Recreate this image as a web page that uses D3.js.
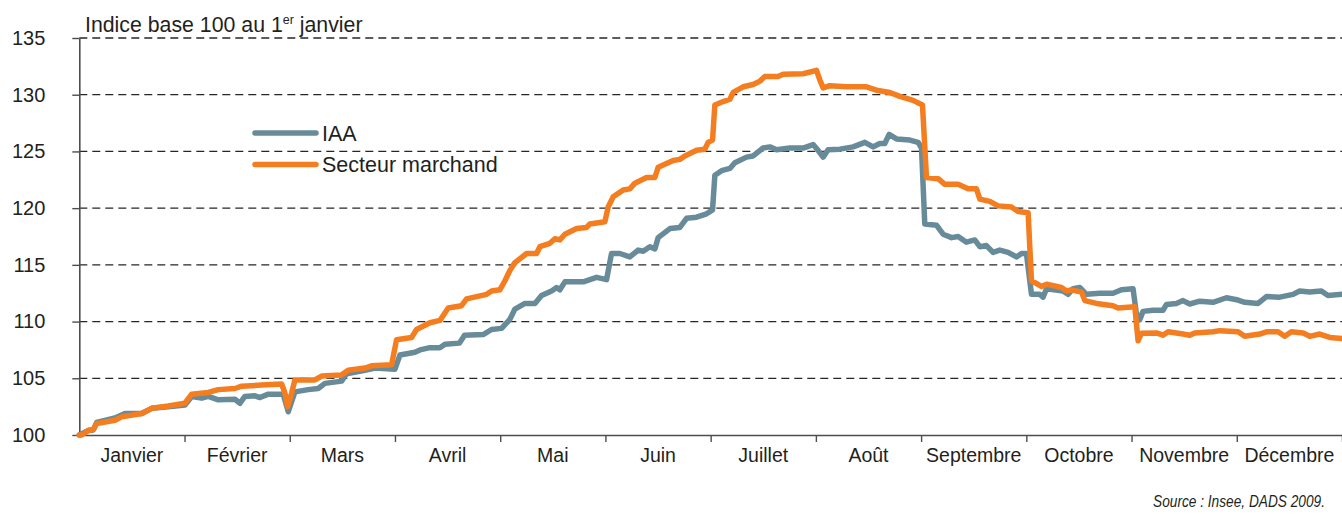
<!DOCTYPE html>
<html>
<head>
<meta charset="utf-8">
<script src="https://cdn.jsdelivr.net/npm/d3@7"></script>
<style>
  body { margin:0; background:#fff; }
  .chart text { font-family:"Liberation Sans", Arial, Helvetica, sans-serif; fill:#231f20; }
</style>
</head>
<body>
<div class="chart"></div>
<script>
// mois (positions en fraction de mois, 0 = 1er janvier)
const months = ['Janvier','Février','Mars','Avril','Mai','Juin','Juillet','Août','Septembre','Octobre','Novembre','Décembre'];
const yTicks = [100,105,110,115,120,125,130,135];

// IAA
const iaa = [
  [0,100],[0.086,100.4],[0.133,100.45],[0.165,101.1],[0.339,101.5],[0.434,101.9],[0.593,101.9],[0.688,102.35],
  [0.846,102.5],[1.004,102.65],[1.068,103.4],[1.163,103.25],[1.226,103.4],[1.321,103.1],[1.479,103.15],[1.527,102.8],
  [1.574,103.4],[1.669,103.45],[1.717,103.3],[1.796,103.6],[1.938,103.6],[1.986,102.05],[2.049,103.8],[2.176,104.0],
  [2.271,104.1],[2.334,104.55],[2.493,104.75],[2.54,105.4],[2.715,105.7],[2.81,105.9],[3.0,105.8],[3.047,107.05],
  [3.19,107.3],[3.238,107.5],[3.332,107.7],[3.427,107.7],[3.475,108.0],[3.613,108.1],[3.661,108.8],[3.838,108.85],
  [3.918,109.3],[4.013,109.4],[4.092,110.2],[4.14,111.1],[4.235,111.6],[4.33,111.6],[4.393,112.3],[4.488,112.7],
  [4.536,113.0],[4.567,112.8],[4.615,113.5],[4.789,113.5],[4.916,113.9],[5.011,113.7],[5.058,116.0],[5.137,116.0],
  [5.232,115.7],[5.311,116.3],[5.359,116.2],[5.422,116.6],[5.47,116.4],[5.501,117.4],[5.613,118.2],[5.707,118.3],
  [5.771,119.1],[5.866,119.2],[5.961,119.5],[6.018,119.85],[6.04,122.9],[6.104,123.3],[6.183,123.5],[6.23,124.0],
  [6.341,124.5],[6.404,124.6],[6.499,125.3],[6.563,125.4],[6.626,125.15],[6.753,125.3],[6.879,125.3],[6.974,125.6],
  [7.021,125.1],[7.069,124.5],[7.116,125.15],[7.228,125.2],[7.354,125.4],[7.465,125.8],[7.544,125.4],[7.607,125.7],
  [7.655,125.7],[7.696,126.5],[7.766,126.1],[7.893,126.0],[7.972,125.8],[8.004,125.3],[8.035,118.6],[8.146,118.5],
  [8.209,117.7],[8.29,117.4],[8.352,117.5],[8.431,117.0],[8.51,117.2],[8.558,116.6],[8.621,116.7],[8.684,116.1],
  [8.748,116.3],[8.827,116.1],[8.906,115.7],[8.954,116.0],[9.001,116.0],[9.049,112.4],[9.128,112.4],[9.159,112.15],
  [9.192,112.9],[9.349,112.7],[9.396,112.4],[9.444,112.9],[9.508,113.0],[9.571,112.4],[9.698,112.5],[9.824,112.5],
  [9.904,112.8],[10.014,112.9],[10.046,110.7],[10.077,110.15],[10.109,110.9],[10.204,111.0],[10.299,111.0],[10.331,111.5],
  [10.426,111.6],[10.489,111.85],[10.553,111.55],[10.648,111.8],[10.774,111.7],[10.902,112.1],[11.012,111.9],[11.076,111.7],
  [11.202,111.6],[11.282,112.2],[11.409,112.15],[11.535,112.4],[11.598,112.7],[11.693,112.6],[11.804,112.7],[11.867,112.3],
  [12,112.4]
];

// Secteur marchand
const marchand = [
  [0,100],[0.023,100.0],[0.086,100.4],[0.133,100.5],[0.165,101.0],[0.339,101.3],[0.403,101.6],[0.593,101.9],
  [0.688,102.35],[0.846,102.55],[1.004,102.8],[1.068,103.6],[1.226,103.75],[1.321,104.0],[1.479,104.1],[1.543,104.3],
  [1.733,104.4],[1.923,104.5],[1.954,103.7],[1.98,102.5],[2.018,103.7],[2.049,104.85],[2.239,104.85],[2.303,105.2],
  [2.493,105.3],[2.556,105.7],[2.715,105.9],[2.778,106.1],[2.968,106.2],[3.015,108.4],[3.158,108.6],[3.205,109.3],
  [3.332,109.9],[3.427,110.1],[3.506,111.2],[3.633,111.4],[3.681,112.0],[3.871,112.4],[3.918,112.7],[3.997,112.8],
  [4.045,113.6],[4.092,114.5],[4.14,115.2],[4.251,116.0],[4.346,116.0],[4.377,116.6],[4.472,116.9],[4.52,117.3],
  [4.567,117.2],[4.615,117.7],[4.726,118.2],[4.821,118.3],[4.852,118.6],[4.995,118.8],[5.026,120.1],[5.074,121.0],
  [5.169,121.6],[5.232,121.7],[5.28,122.2],[5.391,122.7],[5.47,122.7],[5.501,123.6],[5.644,124.2],[5.707,124.3],
  [5.755,124.6],[5.866,125.1],[5.945,125.2],[5.976,125.8],[6.018,126.0],[6.04,129.1],[6.119,129.4],[6.183,129.6],
  [6.214,130.2],[6.309,130.7],[6.404,130.9],[6.468,131.2],[6.515,131.6],[6.641,131.6],[6.689,131.8],[6.879,131.85],
  [7.006,132.15],[7.038,131.3],[7.069,130.6],[7.133,130.8],[7.291,130.7],[7.481,130.7],[7.576,130.4],[7.703,130.2],
  [7.798,129.85],[7.924,129.5],[8.013,129.1],[8.051,122.7],[8.162,122.6],[8.225,122.1],[8.352,122.1],[8.447,121.7],
  [8.526,121.7],[8.558,120.8],[8.653,120.6],[8.732,120.2],[8.859,120.1],[8.922,119.7],[9.017,119.6],[9.049,113.6],
  [9.144,113.1],[9.192,113.3],[9.334,113.0],[9.382,112.7],[9.429,112.8],[9.524,112.6],[9.556,111.85],[9.667,111.6],
  [9.824,111.4],[9.872,111.2],[10.031,111.3],[10.062,108.3],[10.094,108.97],[10.237,109.0],[10.299,108.8],[10.347,109.1],
  [10.489,108.9],[10.553,108.8],[10.601,109.0],[10.774,109.1],[10.838,109.2],[11.012,109.1],[11.076,108.7],[11.218,108.9],
  [11.282,109.1],[11.392,109.1],[11.456,108.7],[11.519,109.1],[11.63,109.0],[11.693,108.7],[11.788,108.9],[11.883,108.6],
  [12,108.5]
];

const series = [
  { name:'IAA', data:iaa, color:'#688b9a' },
  { name:'Secteur marchand', data:marchand, color:'#f47d20' }
];

const W = 1342, H = 514;
const margin = { top:38, left:79.3, right:0, bottom:79 };
const iW = W - margin.left - margin.right;
const iH = H - margin.top - margin.bottom;

const svg = d3.select('.chart').append('svg')
  .attr('width', W)
  .attr('height', H);

const graph = svg.append('g')
  .attr('transform', `translate(${margin.left},${margin.top})`);

const x = d3.scaleLinear().domain([0, 12]).range([0, iW]);
const y = d3.scaleLinear().domain([100, 135]).range([iH, 0]);
const xBand = d3.scaleBand().domain(months).range([0, iW]);

// grille pointillée
graph.append('g').attr('class','grid')
  .selectAll('line')
  .data(yTicks.filter(d => d > 100))
  .enter().append('line')
  .attr('x1', 0).attr('x2', iW)
  .attr('y1', d => y(d)).attr('y2', d => y(d))
  .attr('stroke', '#262626')
  .attr('stroke-width', 1.3)
  .attr('stroke-dasharray', '8 5');

// axe x : traits des mois
const xAxis = graph.append('g')
  .attr('transform', `translate(0,${iH})`)
  .call(d3.axisBottom(x).tickValues(d3.range(1, 13)).tickSize(7).tickSizeOuter(0).tickFormat(''));
xAxis.select('.domain').attr('stroke', '#4d4d4d').attr('stroke-width', 1.6);
xAxis.selectAll('.tick line').attr('stroke', '#4d4d4d').attr('stroke-width', 1.4);

// libellés des mois
const xLabels = graph.append('g')
  .attr('transform', `translate(0,${iH})`)
  .call(d3.axisBottom(xBand).tickSize(0).tickPadding(13));
xLabels.select('.domain').remove();
xLabels.selectAll('text')
  .attr('font-size', 19.5)
  .attr('font-family', null);

// axe y
const yAxis = graph.append('g')
  .call(d3.axisLeft(y).tickValues(yTicks).tickSize(7).tickSizeOuter(0).tickPadding(27));
yAxis.select('.domain').attr('stroke', '#4d4d4d').attr('stroke-width', 1.6);
yAxis.selectAll('.tick line').attr('stroke', '#4d4d4d').attr('stroke-width', 1.4);
yAxis.selectAll('text')
  .attr('font-size', 20)
  .attr('font-family', null);

// courbes
const line = d3.line()
  .x(d => x(d[0]))
  .y(d => y(d[1]));

graph.selectAll('.serie')
  .data(series)
  .enter().append('path')
  .attr('class', 'serie')
  .attr('d', d => line(d.data))
  .attr('fill', 'none')
  .attr('stroke', d => d.color)
  .attr('stroke-width', 5.5)
  .attr('stroke-linejoin', 'round')
  .attr('stroke-linecap', 'round');

// légende
const legend = svg.append('g')
  .attr('transform', 'translate(255,133)');

const item = legend.selectAll('g')
  .data(series)
  .enter().append('g')
  .attr('transform', (d, i) => `translate(0,${i * 31.5})`);

item.append('line')
  .attr('x1', 0).attr('x2', 61)
  .attr('stroke', d => d.color)
  .attr('stroke-width', 5.5)
  .attr('stroke-linecap', 'round');

item.append('text')
  .attr('x', 67)
  .attr('dy', '0.36em')
  .attr('font-size', 21.5)
  .text(d => d.name);

// titre
const title = svg.append('text')
  .attr('x', 85)
  .attr('y', 31.5)
  .attr('font-size', 21.3);
title.append('tspan').text('Indice base 100 au 1');
title.append('tspan').attr('font-size', 12.5).attr('dy', -8).text('er');
title.append('tspan').attr('dy', 8).text(' janvier');

// source (texte étroit)
svg.append('text')
  .attr('transform', 'translate(1325,507) scale(0.83,1)')
  .attr('text-anchor', 'end')
  .attr('font-size', 16.5)
  .attr('font-style', 'italic')
  .text('Source : Insee, DADS 2009.');
</script>
</body>
</html>
